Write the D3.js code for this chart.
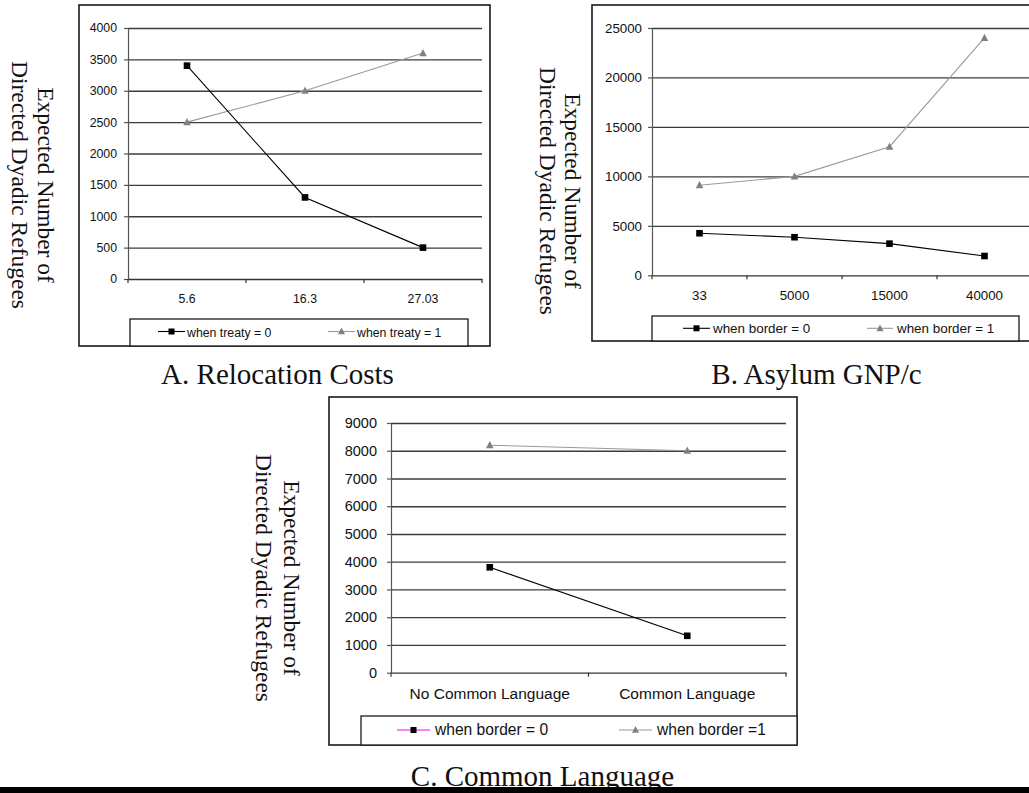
<!DOCTYPE html>
<html><head><meta charset="utf-8">
<script src="https://cdn.jsdelivr.net/npm/d3@7"></script>
<style>
html,body{margin:0;padding:0;background:#fff;}
svg{display:block;}
</style></head>
<body>
<svg id="chart" width="1029" height="793"></svg>
<script>
// ---------- data ----------
const catsA = ["5.6", "16.3", "27.03"];
const treaty0 = [3400, 1300, 500];
const treaty1 = [2500, 3000, 3600];
const yTicksA = [0, 500, 1000, 1500, 2000, 2500, 3000, 3500, 4000];
const legendA = ["when treaty = 0", "when treaty = 1"];
const titleA = "A. Relocation Costs";

const catsB = ["33", "5000", "15000", "40000"];
const border0B = [4250, 3850, 3200, 1950];
const border1B = [9100, 10000, 13000, 24000];
const yTicksB = [0, 5000, 10000, 15000, 20000, 25000];
const legendB = ["when border = 0", "when border = 1"];
const titleB = "B. Asylum GNP/c";

const catsC = ["No Common Language", "Common Language"];
const border0C = [3800, 1330];
const border1C = [8200, 8000];
const yTicksC = [0, 1000, 2000, 3000, 4000, 5000, 6000, 7000, 8000, 9000];
const legendC = ["when border = 0", "when border =1"];
const titleC = "C. Common Language";

const yTitle = ["Expected Number of", "Directed Dyadic Refugees"];

// ---------- layout ----------
const panels = [
  { cats: catsA, s0: treaty0, s1: treaty1, ticks: yTicksA, legend: legendA, title: titleA,
    frame: [79, 5, 490, 346], plot: [128, 28, 482, 279], fs: 12.3, yPad: 7, xLabY: 24,
    leg: { box: [130, 319, 468, 346], cy: 331.5, sym: [[158, 185], [328, 355]], text: [187, 357], base: 336.5, fs: 12.3, magenta: false },
    titlePos: [277.5, 384], yt: { cy: 185, b: [38, 12] } },
  { cats: catsB, s0: border0B, s1: border1B, ticks: yTicksB, legend: legendB, title: titleB,
    frame: [592, 5, 1040, 341], plot: [652, 28, 1032, 275.3], fs: 13.3, yPad: 6, xLabY: 24.5,
    leg: { box: [652, 316, 1019, 341], cy: 328.3, sym: [[683, 710], [867, 893]], text: [713, 897], base: 332.7, fs: 13.4, magenta: false },
    titlePos: [816.5, 384], yt: { cy: 191, b: [565, 540] } },
  { cats: catsC, s0: border0C, s1: border1C, ticks: yTicksC, legend: legendC, title: titleC,
    frame: [329, 397, 797, 745], plot: [391, 423, 786, 672.7], fs: 14.5, xfs: 15.5, yPad: 10, xLabY: 26.5,
    leg: { box: [361, 716, 797, 745], cy: 730, sym: [[397, 430], [619, 652]], text: [435, 657], base: 734.5, fs: 15.6, magenta: true },
    titlePos: [542.5, 785.5], yt: { cy: 578, b: [284, 256] } }
];

const svg = d3.select("#chart");
const SANS = "'Liberation Sans', Arial, sans-serif";
const SERIF = "'Liberation Serif', 'Times New Roman', serif";
const GRID = "#3c3c3c";
const GRAYLINE = "#9a9a9a";
const GRAYMARK = "#808080";

function triPath(cx, cy, s) {
  const h = s * 0.9;
  return `M${cx},${cy - h * 0.62}L${cx + s / 2},${cy + h * 0.45}L${cx - s / 2},${cy + h * 0.45}Z`;
}

panels.forEach(p => {
  const g = svg.append("g");
  const [fx0, fy0, fx1, fy1] = p.frame;
  const [px0, py0, px1, py1] = p.plot;

  const x = d3.scaleBand().domain(p.cats).range([px0, px1]).padding(0);
  const y = d3.scaleLinear().domain([0, d3.max(p.ticks)]).range([py1, py0]);

  // frame
  g.append("rect").attr("x", fx0).attr("y", fy0).attr("width", fx1 - fx0).attr("height", fy1 - fy0)
    .attr("fill", "none").attr("stroke", "#1a1a1a").attr("stroke-width", 1.6);

  // gridlines
  const grid = g.append("g").attr("transform", `translate(${px0},0)`)
    .call(d3.axisRight(y).tickValues(p.ticks.filter(t => t > 0)).tickSize(px1 - px0).tickFormat(""));
  grid.select(".domain").remove();
  grid.selectAll(".tick line").attr("stroke", GRID).attr("stroke-width", 1.3);

  // y axis
  const ya = g.append("g").attr("transform", `translate(${px0},0)`)
    .call(d3.axisLeft(y).tickValues(p.ticks).tickSize(4).tickSizeOuter(0).tickPadding(p.yPad).tickFormat(d3.format("d")));
  ya.select(".domain").attr("stroke", "#555").attr("stroke-width", 1.2);
  ya.selectAll(".tick line").attr("stroke", "#555").attr("stroke-width", 1.2);
  ya.selectAll("text").attr("font-family", SANS).attr("font-size", p.fs).attr("fill", "#111");

  // x axis (labels)
  const xa = g.append("g").attr("transform", `translate(0,${py1})`)
    .call(d3.axisBottom(x).tickSize(0).tickSizeOuter(0));
  xa.select(".domain").attr("stroke", "#333").attr("stroke-width", 1.3);
  xa.selectAll("text").attr("font-family", SANS).attr("font-size", p.xfs || p.fs).attr("fill", "#111")
    .attr("dy", 0).attr("y", p.xLabY);
  // x tick marks at category boundaries
  const bounds = p.cats.map(c => x(c)).concat([px1]);
  g.selectAll(null).data(bounds).enter().append("line")
    .attr("x1", d => d).attr("x2", d => d).attr("y1", py1).attr("y2", py1 + 4)
    .attr("stroke", "#333").attr("stroke-width", 1.2);

  const cx = c => x(c) + x.bandwidth() / 2;
  const line = d3.line().x((d, i) => cx(p.cats[i])).y(d => y(d));

  // gray series
  g.append("path").datum(p.s1).attr("d", line).attr("fill", "none").attr("stroke", GRAYLINE).attr("stroke-width", 1.1);
  g.selectAll(null).data(p.s1).enter().append("path")
    .attr("d", (d, i) => triPath(cx(p.cats[i]), y(d), 7.5)).attr("fill", GRAYMARK);

  // black series
  g.append("path").datum(p.s0).attr("d", line).attr("fill", "none").attr("stroke", "#000").attr("stroke-width", 1.1);
  g.selectAll(null).data(p.s0).enter().append("rect")
    .attr("x", (d, i) => cx(p.cats[i]) - 3.3).attr("y", d => y(d) - 3.3)
    .attr("width", 6.6).attr("height", 6.6).attr("fill", "#000");

  // legend
  const L = p.leg;
  g.append("rect").attr("x", L.box[0]).attr("y", L.box[1]).attr("width", L.box[2] - L.box[0]).attr("height", L.box[3] - L.box[1])
    .attr("fill", "#fff").attr("stroke", "#1a1a1a").attr("stroke-width", 1.3);
  // item 0
  g.append("line").attr("x1", L.sym[0][0]).attr("x2", L.sym[0][1]).attr("y1", L.cy).attr("y2", L.cy)
    .attr("stroke", L.magenta ? "#ff00ff" : "#000").attr("stroke-width", 1.1);
  const m0 = (L.sym[0][0] + L.sym[0][1]) / 2;
  g.append("rect").attr("x", m0 - 3).attr("y", L.cy - 3).attr("width", 6).attr("height", 6).attr("fill", "#000");
  g.append("text").attr("x", L.text[0]).attr("y", L.base).text(p.legend[0])
    .attr("font-family", SANS).attr("font-size", L.fs).attr("fill", "#111");
  // item 1
  g.append("line").attr("x1", L.sym[1][0]).attr("x2", L.sym[1][1]).attr("y1", L.cy).attr("y2", L.cy)
    .attr("stroke", GRAYLINE).attr("stroke-width", 1.1);
  const m1 = (L.sym[1][0] + L.sym[1][1]) / 2;
  g.append("path").attr("d", triPath(m1, L.cy, 7)).attr("fill", GRAYMARK);
  g.append("text").attr("x", L.text[1]).attr("y", L.base).text(p.legend[1])
    .attr("font-family", SANS).attr("font-size", L.fs).attr("fill", "#111");

  // y title (rotated, reading top-down)
  yTitle.forEach((t, i) => {
    g.append("text").attr("transform", `translate(${p.yt.b[i]},${p.yt.cy}) rotate(90)`)
      .attr("text-anchor", "middle").attr("font-family", SERIF).attr("font-size", 23.5).attr("fill", "#111").text(t);
  });

  // panel title
  g.append("text").attr("x", p.titlePos[0]).attr("y", p.titlePos[1]).attr("text-anchor", "middle")
    .attr("font-family", SERIF).attr("font-size", 29).attr("fill", "#111").text(p.title);
});

// bottom rule
svg.append("rect").attr("x", 0).attr("y", 787).attr("width", 1029).attr("height", 6).attr("fill", "#000");
</script>
</body></html>
